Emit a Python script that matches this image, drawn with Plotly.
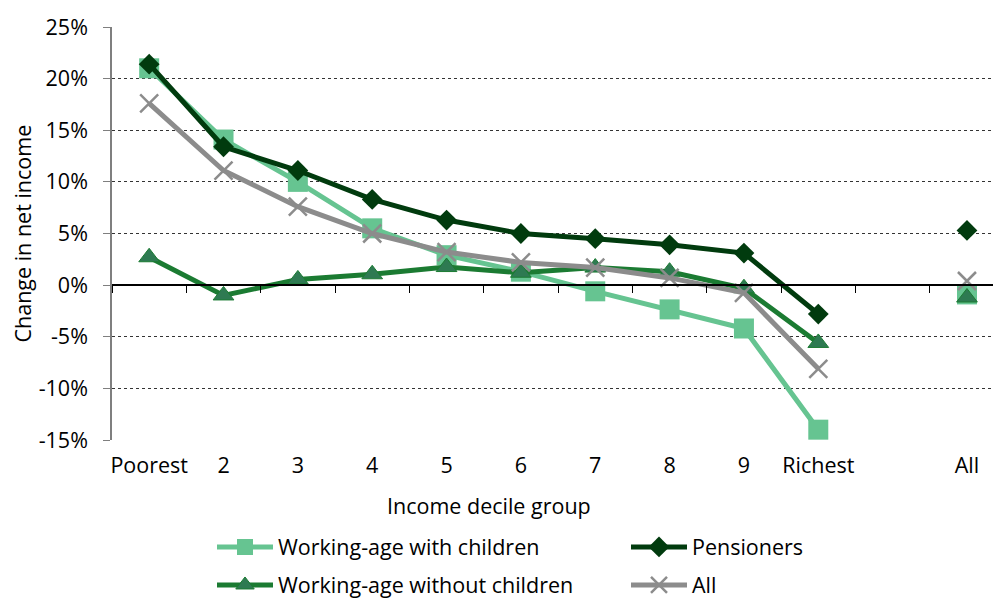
import plotly.graph_objects as go

categories = ["Poorest", "2", "3", "4", "5", "6", "7", "8", "9", "Richest", " ", "All"]

wac = [21.0, 14.1, 10.0, 5.5, 2.9, 1.3, -0.6, -2.35, -4.2, -14.0, None, -0.9]
wawoc = [2.7, -1.0, 0.55, 1.05, 1.75, 1.2, 1.7, 1.3, -0.3, -5.6, None, -1.2]
pens = [21.4, 13.4, 11.1, 8.3, 6.3, 5.0, 4.5, 3.9, 3.1, -2.8, None, 5.3]
allhh = [17.6, 11.1, 7.6, 5.0, 3.2, 2.2, 1.7, 0.7, -0.75, -8.1, None, 0.4]

y_ticks = [-15, -10, -5, 0, 5, 10, 15, 20, 25]
y_tick_labels = [f"{v}%" for v in y_ticks]

FONT = "Open Sans"
FS = 21.5
C_WAC = "#66C491"
C_WAWOC = "#1B7B32"
C_WAWOC_FILL = "#2E7A52"
C_PENS = "#013B0E"
C_ALL = "#8C8C8C"

fig = go.Figure()

fig.add_trace(go.Scatter(
    x=categories, y=wac, name="Working-age with children", mode="lines+markers",
    line=dict(color=C_WAC, width=5), connectgaps=False,
    marker=dict(symbol="square", size=20, color=C_WAC), legend="legend"))
fig.add_trace(go.Scatter(
    x=categories, y=wawoc, name="Working-age without children", mode="lines+markers",
    line=dict(color=C_WAWOC, width=5), connectgaps=False,
    marker=dict(symbol="triangle-up", size=18, color=C_WAWOC_FILL,
                line=dict(color=C_WAWOC, width=1)), legend="legend2"))
fig.add_trace(go.Scatter(
    x=categories, y=pens, name="Pensioners", mode="lines+markers",
    line=dict(color=C_PENS, width=5), connectgaps=False,
    marker=dict(symbol="diamond", size=16, color=C_PENS), legend="legend3"))
fig.add_trace(go.Scatter(
    x=categories, y=allhh, name="All", mode="lines+markers",
    line=dict(color=C_ALL, width=5), connectgaps=False,
    marker=dict(symbol="x-thin-open", size=18, color=C_ALL,
                line=dict(color=C_ALL, width=2.5)), legend="legend4"))

# invisible trace to carry the zero-line axis with tick marks
fig.add_trace(go.Scatter(
    x=categories, y=[None] * len(categories), xaxis="x2", showlegend=False,
    hoverinfo="skip", mode="lines"))

PL, PT, PB = 112, 27, 440
PW, PH = 993 - PL, PB - PT
xr = [-0.5, 11.35]
fig.update_layout(
    width=993, height=600,
    margin=dict(l=PL, r=0, t=PT, b=600 - PB, autoexpand=False),
    paper_bgcolor="white", plot_bgcolor="white",
    font=dict(family=FONT, size=FS, color="#000000"),
    xaxis=dict(type="category", categoryorder="array", categoryarray=categories,
               range=xr, showgrid=False, zeroline=False, showline=False,
               ticks="", ticklabelstandoff=10, automargin=False,
               tickfont=dict(size=FS)),
    xaxis2=dict(type="category", categoryorder="array", categoryarray=categories,
                range=xr, overlaying="x", anchor="free", position=0.375,
                showgrid=False, zeroline=False, showline=True, linecolor="#000000",
                linewidth=1.5, ticks="outside", tickson="boundaries", ticklen=7,
                tickcolor="#000000", tickwidth=1, showticklabels=False, automargin=False),
    yaxis=dict(range=[-15, 25], tickmode="array", tickvals=y_ticks, ticktext=y_tick_labels,
               showgrid=True, gridcolor="#333333", griddash="dot", gridwidth=1,
               zeroline=False, showline=True, linecolor="#7F7F7F", linewidth=1.5,
               ticks="outside", ticklen=7, tickcolor="#7F7F7F", automargin=False,
               ticklabelstandoff=11, tickfont=dict(size=FS)),
    showlegend=True,
    annotations=[
        dict(text="Income decile group", xref="paper", yref="paper",
             x=(489 - PL) / PW, y=-(505 - PB) / PH, xanchor="center", yanchor="middle",
             showarrow=False, font=dict(size=FS)),
        dict(text="Change in net income", xref="paper", yref="paper",
             x=-(PL - 22) / PW, y=0.5, xanchor="center", yanchor="middle",
             textangle=-90, showarrow=False, font=dict(size=FS)),
    ],
)


def leg(x, y):
    return dict(xref="paper", yref="paper", x=(x - PL) / PW, y=(PB - y) / PH,
                xanchor="left", yanchor="middle", orientation="v",
                bgcolor="rgba(0,0,0,0)", font=dict(size=FS), itemwidth=56,
                itemclick=False, itemdoubleclick=False)


fig.update_layout(
    legend=leg(212, 547),
    legend2=leg(212, 585),
    legend3=leg(626, 547),
    legend4=leg(626, 585),
)

fig.write_html("out.html")
